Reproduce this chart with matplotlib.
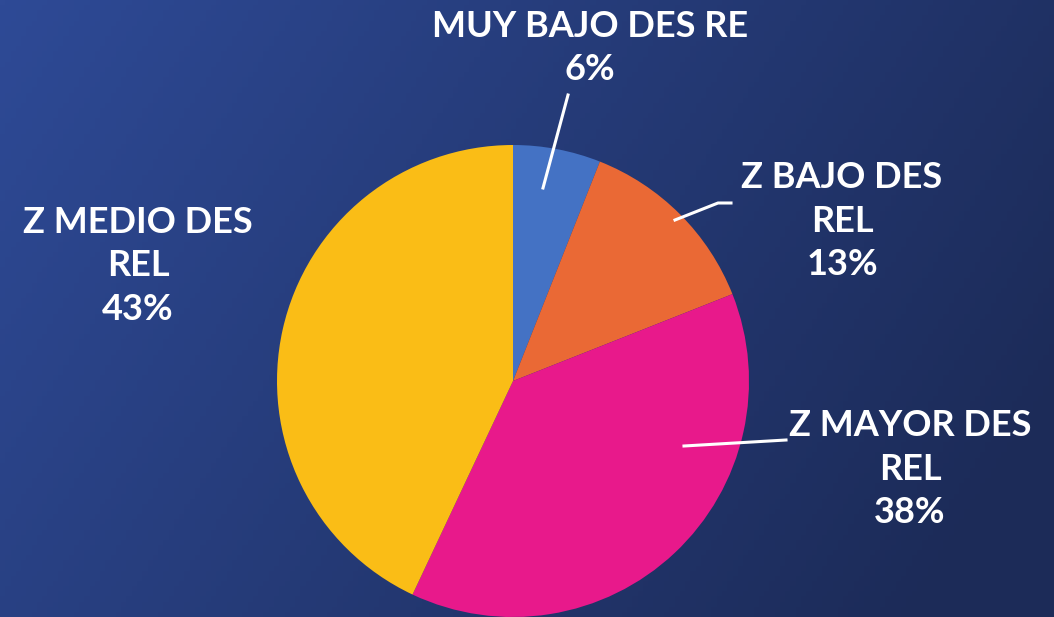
import matplotlib.pyplot as plt
import numpy as np

labels = ["MUY BAJO DES RE", "Z BAJO DES\nREL", "Z MAYOR DES\nREL", "Z MEDIO DES\nREL"]
values = [6, 13, 38, 43]
colors = ["#4472C4", "#EA6935", "#E8198B", "#FABD16"]

W, H = 1054, 617
fig = plt.figure(figsize=(W / 100, H / 100), dpi=100)
ax = fig.add_axes([0, 0, 1, 1])

# background gradient, lighter at top-left, darker toward the right
gx, gy = np.meshgrid(np.linspace(0, 1, 200), np.linspace(0, 1, 120))
t = np.clip(0.8 * gx + 0.3 * gy, 0, 1)
c0 = np.array([0x2e, 0x4a, 0x96]) / 255
c1 = np.array([0x1c, 0x2b, 0x58]) / 255
img = c0[None, None, :] * (1 - t[..., None]) + c1[None, None, :] * t[..., None]
ax.imshow(img, extent=[0, W, 0, H], aspect="auto", zorder=0)

cx, cy, r = 513, H - 381, 236
ax.pie(values, colors=colors, startangle=90, counterclock=False,
       center=(cx, cy), radius=r, frame=True, wedgeprops=dict(linewidth=0))
ax.set_xlim(0, W)
ax.set_ylim(0, H)
ax.set_aspect("equal")
ax.set_axis_off()

font = dict(family="Lato", weight="bold", color="white", fontsize=26,
            ha="center", va="center", linespacing=1.4)

# leader lines
ax.plot([543, 568], [H - 188, H - 95], color="white", lw=2.2)
ax.plot([675, 718, 731], [H - 220, H - 203, H - 203], color="white", lw=2.2)
ax.plot([684, 786], [H - 446, H - 440], color="white", lw=2.2)

pos = [(590, H - 48), (842, H - 221), (910, H - 469), (138, H - 266)]
for lab, v, (x, y) in zip(labels, values, pos):
    ax.text(x, y, f"{lab}\n{v}%", **font)

fig.savefig("out.png", dpi=100)
